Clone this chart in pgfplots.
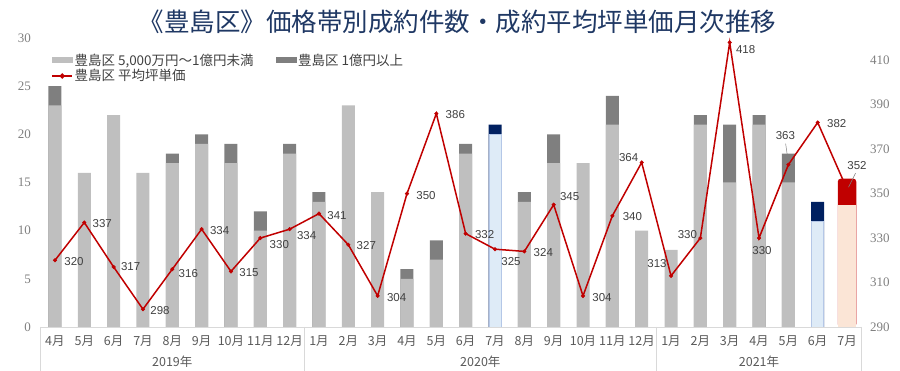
\documentclass[border=0pt]{standalone}
\usepackage{fontspec}
\usepackage{pgfplots}
\pgfplotsset{compat=1.18}
\setmainfont{Liberation Serif}
\newfontfamily\jp{Noto Sans CJK JP}
\newfontfamily\lab{Liberation Sans}
\definecolor{lgray}{HTML}{BFBFBF}
\definecolor{dgray}{HTML}{7F7F7F}
\definecolor{lblue}{HTML}{DEEBF7}
\definecolor{lblueline}{HTML}{B4C7E7}
\definecolor{navy}{HTML}{002060}
\definecolor{peach}{HTML}{FBE5D6}
\definecolor{redc}{HTML}{C00000}
\definecolor{tickc}{HTML}{7F7F7F}
\definecolor{monthc}{HTML}{595959}
\definecolor{labc}{HTML}{404040}
\definecolor{titlec}{HTML}{1F3864}
\definecolor{sepc}{HTML}{D9D9D9}
\begin{document}
\begin{tikzpicture}[x=1pt,y=1pt]
\useasboundingbox (-40.3,-44) rectangle (859.7,327);
\begin{axis}[at={(0,0)}, anchor=south west, scale only axis,
  width=821.4pt, height=289pt,
  xmin=-0.5, xmax=27.5, ymin=0, ymax=30, ytick={0,5,...,30},
  xtick={0,...,27},
  xticklabels={4月,5月,6月,7月,8月,9月,10月,11月,12月,1月,2月,3月,4月,5月,6月,7月,8月,9月,10月,11月,12月,1月,2月,3月,4月,5月,6月,7月},
  axis line style={draw=none}, major tick length=0pt,
  /pgf/number format/assume math mode=true,
  yticklabel style={font=\fontsize{13}{13}\selectfont, text=tickc, xshift=-6pt},
  xticklabel style={font=\jp\fontsize{12.5}{13}\selectfont, text=monthc, anchor=center, yshift=-14pt},
  clip=false, ybar, bar width=13pt]
\addplot[fill=dgray, draw=none, bar shift=0pt] table {
x y
0 25
4 18
5 20
6 19
7 12
8 19
9 14
12 6
13 9
14 19
16 14
17 20
19 24
22 22
23 21
24 22
25 18
};
\addplot[fill=lgray, draw=none, bar shift=0pt] table {
x y
0 23
1 16
2 22
3 16
4 17
5 19
6 17
7 10
8 18
9 13
10 23
11 14
12 5
13 7
14 18
16 13
17 17
18 17
19 21
20 10
21 8
22 21
23 15
24 21
25 15
};
\addplot[fill=navy, draw=none, bar shift=0pt] table {
x y
15 21
26 13
};
\addplot[fill=lblue, draw=lblueline, line width=0.6pt, bar shift=0pt, bar width=12pt] table {
x y
15 20
26 11
};
\addplot[fill=redc, draw=none, rounded corners=3pt, bar shift=0pt, bar width=18.5pt] table {
x y
27 15.4
};
\addplot[fill=peach, draw=none, bar shift=0pt, bar width=18pt] table {
x y
27 12.7
};
\draw[sepc, line width=0.8pt] (axis cs:-0.5,0) -- (axis cs:27.5,0);
\draw[sepc, line width=0.8pt] (axis cs:-0.5,0) -- ([yshift=-44pt]axis cs:-0.5,0);
\draw[sepc, line width=0.8pt] (axis cs:8.5,0) -- ([yshift=-44pt]axis cs:8.5,0);
\draw[sepc, line width=0.8pt] (axis cs:20.5,0) -- ([yshift=-44pt]axis cs:20.5,0);
\draw[sepc, line width=0.8pt] (axis cs:27.5,0) -- ([yshift=-44pt]axis cs:27.5,0);
\node[font=\jp\fontsize{12.5}{13}\selectfont, text=monthc, yshift=-35pt] at (axis cs:4,0) {2019年};
\node[font=\jp\fontsize{12.5}{13}\selectfont, text=monthc, yshift=-35pt] at (axis cs:14.5,0) {2020年};
\node[font=\jp\fontsize{12.5}{13}\selectfont, text=monthc, yshift=-35pt] at (axis cs:24,0) {2021年};
\node[font=\jp\fontsize{25.5}{26}\selectfont, text=titlec, yshift=16pt, xshift=6.5pt] at (rel axis cs:0.5,1) {《豊島区》価格帯別成約件数・成約平均坪単価月次推移};
\end{axis}
\begin{axis}[at={(0,0)}, anchor=south west, scale only axis,
  width=821.4pt, height=289pt,
  xmin=-0.5, xmax=27.5, ymin=290, ymax=420, ytick={290,310,...,410},
  axis y line*=right, axis x line=none, axis line style={draw=none},
  major tick length=0pt,
  /pgf/number format/assume math mode=true,
  yticklabel style={font=\fontsize{13}{13}\selectfont, text=tickc, xshift=5pt},
  clip=false,
  legend columns=2, legend cell align=left,
  legend style={at={(rel axis cs:0,1)}, anchor=north west, xshift=8pt, yshift=-12pt,
    draw=none, fill=none, font=\jp\fontsize{13.5}{14}\selectfont, text=labc,
    nodes={inner sep=1.5pt},
    /tikz/every even column/.append style={column sep=21pt}},
  ]
\addlegendimage{legend image code/.code={\fill[lgray] (0pt,-2.5pt) rectangle (20pt,2.5pt);}}
\addlegendentry{豊島区 5,000万円～1億円未満}
\addlegendimage{legend image code/.code={\fill[dgray] (0pt,-2.5pt) rectangle (20pt,2.5pt);}}
\addlegendentry{豊島区 1億円以上}
\addplot[color=redc, line width=1.5pt, mark=*, mark size=1.8pt, mark options={fill=redc, draw=redc, line width=0.5pt},
  legend image code/.code={\draw[redc, line width=1.5pt] (0pt,0pt) -- (20pt,0pt); \fill[redc] (10pt,0pt) circle (1.8pt);},
  nodes near coords, point meta=explicit symbolic,
  visualization depends on={\thisrow{dx}\as\dx},
  visualization depends on={\thisrow{dy}\as\dy},
  every node near coord/.append style={font=\lab\fontsize{11.5}{12}\selectfont, text=labc, anchor=center, xshift=\dx pt, yshift=\dy pt, inner sep=0pt}]
  table[x=x, y=y, meta=y] {
x y dx dy
0 320 19 -1
1 337 18 -1
2 317 17 0
3 298 17 -1
4 316 16 -4
5 334 18 -1
6 315 18 -1
7 330 19 -6
8 334 17 -6
9 341 18 -2
10 327 18 -1
11 304 19 -2
12 350 19 -2
13 386 19 -1
14 332 19 -1
15 325 16 -12
16 324 19 -1
17 345 16 8
18 304 19 -2
19 340 20 -1
20 364 -13 5
21 313 -14 12
22 330 -13 4
23 418 16 -7
24 330 3 -12
25 363 -3 29
26 382 19 -1
27 352 10 24
};
\addlegendentry{豊島区 平均坪単価}
\draw[gray, line width=0.5pt] ([xshift=-2.7pt,yshift=21pt]axis cs:25,363) -- ([yshift=2pt]axis cs:25,363);
\draw[gray, line width=0.5pt] ([xshift=8.5pt,yshift=16pt]axis cs:27,352) -- ([xshift=1.5pt,yshift=2pt]axis cs:27,352);
\end{axis}
\end{tikzpicture}
\end{document}
